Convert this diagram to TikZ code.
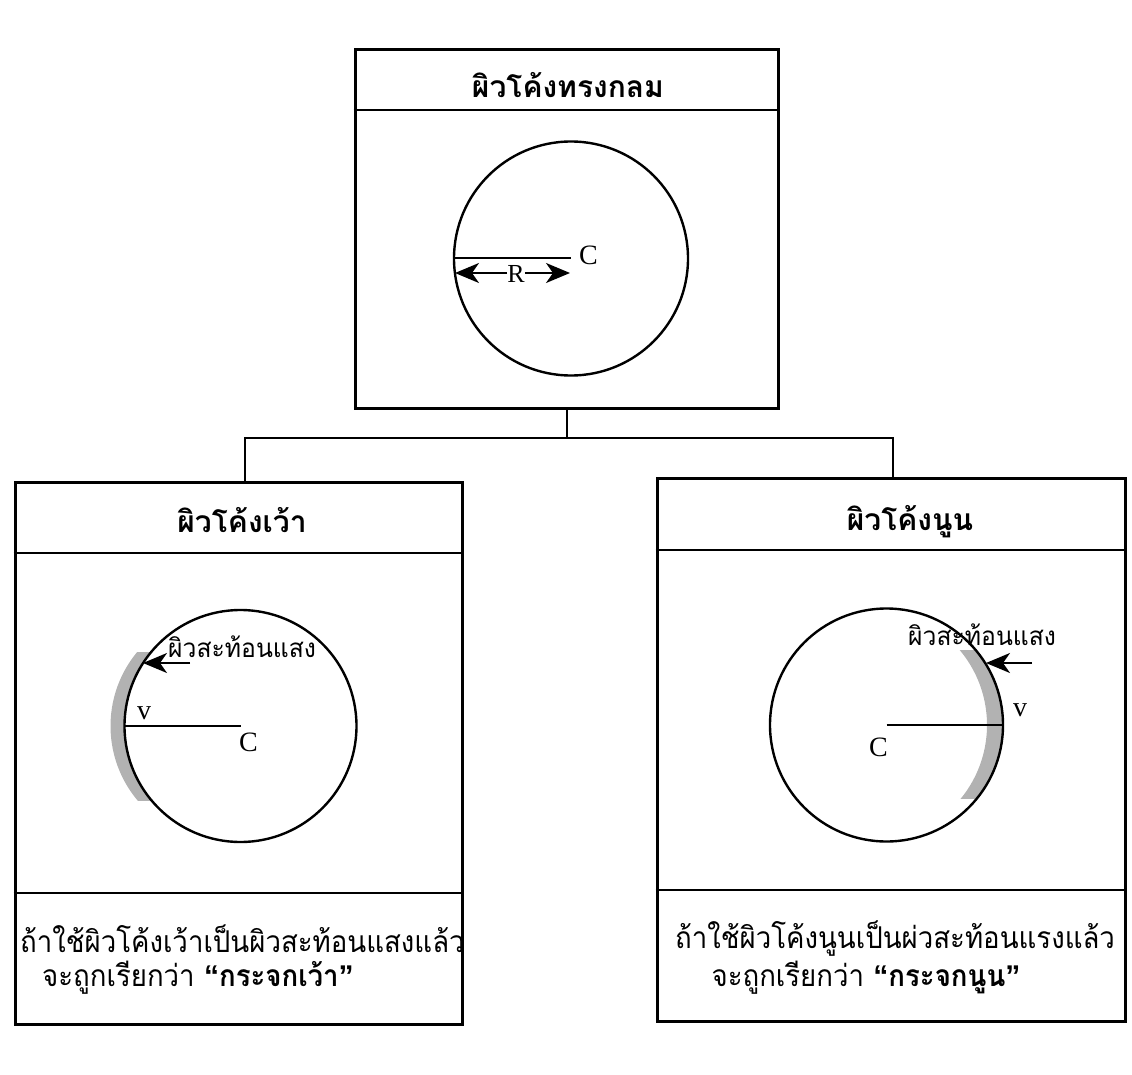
\documentclass[tikz,border=0pt]{standalone}
\usepackage{fontspec}
\setmainfont{Liberation Serif}
\newfontfamily\thai[Script=Thai]{Loma}
\newfontfamily\thainarrow[Script=Thai,FakeStretch=0.92]{Loma}
\newfontfamily\thailabel[Script=Thai,FakeStretch=0.95]{Loma}
\newfontfamily\quotefont{Liberation Sans}
\usetikzlibrary{arrows.meta}
\begin{document}
\begin{tikzpicture}[x=1pt,y=-1pt,
  panel/.style={draw,line width=3pt,inner sep=0pt},
  rule/.style={line width=2pt},
  ring/.style={line width=2.4pt},
  tip/.style={-{Stealth[length=24pt,width=20pt,inset=7pt]},line width=2pt},
  ttl/.style={font=\thai\bfseries\fontsize{30}{36}\selectfont,anchor=base,inner sep=0pt},
  body/.style={font=\thainarrow\fontsize{30}{36}\selectfont,anchor=base west,inner sep=0pt},
  lbl/.style={font=\thailabel\fontsize{26}{30}\selectfont,anchor=base west,inner sep=0pt},
  lat/.style={font=\fontsize{28}{32}\selectfont,anchor=base west,inner sep=0pt},
  shade/.style={fill=black!30}]
\useasboundingbox (0,0) rectangle (1132,1075);

% three panels
\node[panel,minimum width=423pt,minimum height=358pt] (top) at (566.5,229) {};
\node[panel,minimum width=447pt,minimum height=542pt] (lt) at (238.5,753) {};
\node[panel,minimum width=468pt,minimum height=543pt] (rt) at (891,749.5) {};

% tree connectors
\coordinate (j) at (566.5,438);
\draw[rule] (top.south) -- (j);
\draw[rule] ([xshift=6.5pt]lt.north) |- (j) -| ([xshift=2pt]rt.north);

% header and footer rules
\draw[rule] (top.west |- 0,110) -- (top.east |- 0,110);
\draw[rule] (lt.west |- 0,553) -- (lt.east |- 0,553);
\draw[rule] (lt.west |- 0,893) -- (lt.east |- 0,893);
\draw[rule] (rt.west |- 0,550) -- (rt.east |- 0,550);
\draw[rule] (rt.west |- 0,890) -- (rt.east |- 0,890);

% titles
\node[ttl] (t0) at (568,98) {ผิวโค้งทรงกลม};
\node[ttl] (t1) at (242,532) {ผิวโค้งเว้า};
\node[ttl] (t2) at (910,530) {ผิวโค้งนูน};

% spherical surface
\coordinate (c0) at (571,258.5);
\draw[ring] (c0) circle (117pt);
\coordinate (e0) at (454,258.5);
\draw[rule] (e0) -- (c0);
\node[lat] (C0) at (579,265) {C};
\node[lat,anchor=base,font=\fontsize{26}{30}\selectfont] (R0) at (516,283) {R};
\coordinate (rl) at (455,273);
\coordinate (rr) at (570,273);
\draw[tip] (R0.west |- rl) -- (rl);
\draw[tip] (R0.east |- rr) -- (rr);

% concave mirror
\coordinate (c1) at (240.5,726);
\begin{scope}
  \clip (100,652) rectangle (240,800);
  \fill[shade,even odd rule] (226.5,726) circle (116pt) (c1) circle (116pt);
\end{scope}
\draw[ring] (c1) circle (116pt);
\coordinate (v1) at (124.5,726);
\draw[rule] (v1) -- (c1);
\node[lat] (C1) at (239,751) {C};
\node[lat,anchor=base] (V1) at (144,719) {v};
\node[lbl] (s1) at (168,657) {ผิวสะท้อนแสง};
\coordinate (a1) at (143,663);
\draw[tip] (190,663) -- (a1);

% convex mirror
\coordinate (c2) at (886.5,725);
\begin{scope}
  \clip (886,650) rectangle (1010,798);
  \fill[shade,even odd rule] (870.5,725) circle (116.5pt) (c2) circle (116.5pt);
\end{scope}
\draw[ring] (c2) circle (116.5pt);
\coordinate (v2) at (1003,725);
\draw[rule] (c2) -- (v2);
\node[lat] (C2) at (869,756) {C};
\node[lat] (V2) at (1013,716) {v};
\node[lbl] (s2) at (908,645) {ผิวสะท้อนแสง};
\coordinate (a2) at (986,663);
\draw[tip] (1032,663) -- (a2);

% captions
\node[body] (b1) at (20,952) {ถ้าใช้ผิวโค้งเว้าเป็นผิวสะท้อนแสงแล้ว};
\node[body] (b2) at (42,986) {จะถูกเรียกว่า {\quotefont\bfseries “}\textbf{กระจกเว้า}{\quotefont\bfseries ”}};
\node[body] (b3) at (675,948) {ถ้าใช้ผิวโค้งนูนเป็นผ่วสะท้อนแรงแล้ว};
\node[body,anchor=base] (b4) at (866,986) {จะถูกเรียกว่า {\quotefont\bfseries “}\textbf{กระจกนูน}{\quotefont\bfseries ”}};
\end{tikzpicture}
\end{document}
